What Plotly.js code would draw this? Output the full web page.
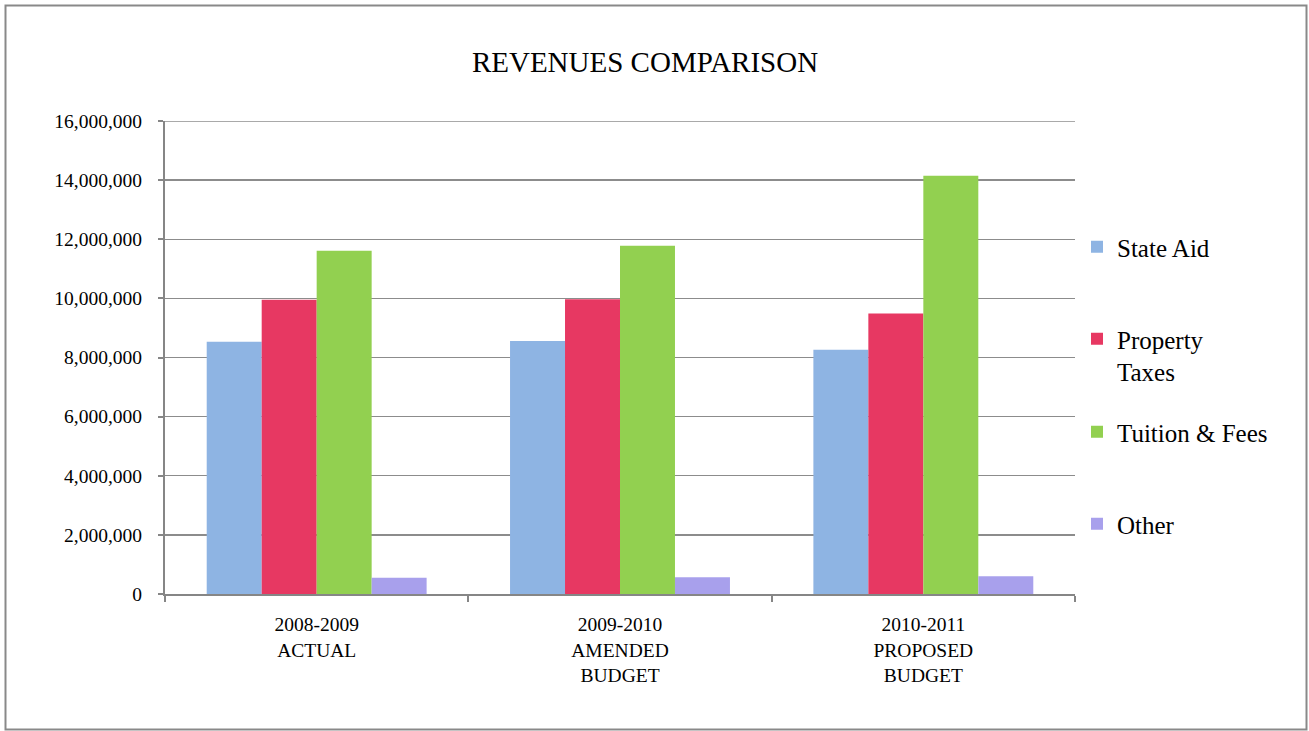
<!DOCTYPE html>
<html>
<head>
<meta charset="utf-8">
<script src="https://cdn.plot.ly/plotly-3.0.1.min.js"></script>
<style>html,body{margin:0;padding:0;background:#fff;}#chart{width:1309px;height:731px;}</style>
</head>
<body>
<div id="chart"></div>
<script>
const categories = ["2008-2009<br>ACTUAL", "2009-2010<br>AMENDED<br>BUDGET", "2010-2011<br>PROPOSED<br>BUDGET"];
const seriesNames = ["State Aid", "Property<br>Taxes", "Tuition & Fees", "Other"];
const stateAid = [8530000, 8560000, 8260000];
const propertyTaxes = [9950000, 9970000, 9490000];
const tuitionFees = [11610000, 11780000, 14150000];
const other = [550000, 570000, 600000];
const colors = ["#8EB4E3", "#E73862", "#92D050", "#A8A0EC"];
const yTicks = [0, 2000000, 4000000, 6000000, 8000000, 10000000, 12000000, 14000000, 16000000];
const yTickText = ["0", "2,000,000", "4,000,000", "6,000,000", "8,000,000", "10,000,000", "12,000,000", "14,000,000", "16,000,000"];

const legendIds = ["legend", "legend2", "legend3", "legend4"];
const allSeries = [stateAid, propertyTaxes, tuitionFees, other];
const traces = allSeries.map((vals, i) => ({
  type: "bar",
  name: seriesNames[i],
  x: categories,
  y: vals,
  legend: legendIds[i],
  marker: {color: colors[i], line: {width: 0}},
  hoverinfo: "y+name"
}));

const serif = "Liberation Serif, Times New Roman, serif";
const L = 165, R = 1075, T = 121, B = 594;
const pw = R - L, ph = B - T;
const px = v => (v - L) / pw;
const py = v => (B - v) / ph;

// legend item top positions (px from top of page)
const legendTops = [224, 316, 409, 501];
const mkLegend = top => ({
  x: 1077/1309, xref: "container", xanchor: "left",
  y: 1 - top/731, yref: "container", yanchor: "top",
  font: {family: serif, size: 25, color: "#000"},
  valign: "top",
  bgcolor: "rgba(0,0,0,0)",
  borderwidth: 0
});

const layout = {
  width: 1309, height: 731,
  margin: {l: L, r: 1309 - R, t: T, b: 731 - B, pad: 0},
  paper_bgcolor: "#ffffff",
  plot_bgcolor: "#ffffff",
  font: {family: serif, color: "#000000", size: 19.5},
  title: {text: "REVENUES COMPARISON", font: {family: serif, size: 29, color: "#000"},
          x: 645/1309, xref: "container", xanchor: "center", y: 1 - 62/731, yref: "container", yanchor: "middle"},
  barmode: "group",
  bargap: 0.275,
  bargroupgap: 0,
  showlegend: true,
  legend: mkLegend(legendTops[0]),
  legend2: mkLegend(legendTops[1]),
  legend3: mkLegend(legendTops[2]),
  legend4: mkLegend(legendTops[3]),
  xaxis: {
    type: "category",
    showline: true, linecolor: "#868686", linewidth: 2,
    ticks: "outside", ticklen: 6, tickcolor: "#868686", tickwidth: 2,
    tickson: "boundaries",
    showgrid: false,
    tickfont: {family: serif, size: 19.5, color: "#000"},
    ticklabelstandoff: 12,
    fixedrange: true
  },
  yaxis: {
    range: [0, 16000000],
    tickvals: yTicks, ticktext: yTickText,
    showline: true, linecolor: "#868686", linewidth: 2,
    ticks: "outside", ticklen: 5, tickcolor: "#868686", tickwidth: 2,
    showgrid: true, gridcolor: "#8c8c8c", gridwidth: 1.3,
    zeroline: false,
    tickfont: {family: serif, size: 19.5, color: "#000"},
    ticklabelstandoff: 12,
    fixedrange: true
  },
  shapes: [
    {type: "line", xref: "paper", yref: "y", x0: 0, x1: 1, y0: yTicks[yTicks.length - 1], y1: yTicks[yTicks.length - 1],
     line: {color: "#8c8c8c", width: 1.3}, layer: "below"},
    {type: "rect", xref: "paper", yref: "paper",
     x0: px(5.5), x1: px(1306.5), y0: py(729.5), y1: py(5.5),
     line: {color: "#898989", width: 2}, fillcolor: "rgba(0,0,0,0)", layer: "above"}
  ]
};

Plotly.newPlot("chart", traces, layout, {displayModeBar: false, staticPlot: true});
</script>
</body>
</html>
